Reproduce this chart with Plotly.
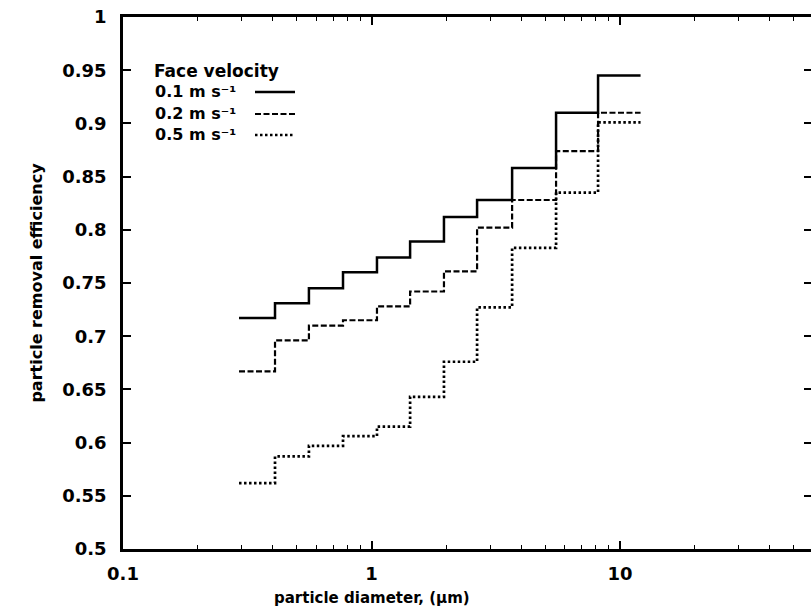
import plotly.graph_objects as go

# particle size bin edges (µm)
bin_edges = [0.293, 0.409, 0.560, 0.768, 1.052, 1.43, 1.957, 2.66, 3.68, 5.53, 8.16, 12.1]
# removal efficiency per bin, for each face velocity
eff_01 = [0.717, 0.731, 0.745, 0.760, 0.774, 0.789, 0.812, 0.828, 0.858, 0.910, 0.945]
eff_02 = [0.667, 0.696, 0.710, 0.715, 0.728, 0.742, 0.761, 0.802, 0.828, 0.874, 0.910]
eff_05 = [0.562, 0.587, 0.597, 0.606, 0.615, 0.643, 0.676, 0.727, 0.783, 0.835, 0.901]
series_names = ["0.1 m s⁻¹", "0.2 m s⁻¹", "0.5 m s⁻¹"]
x_tickvals = [0.1, 1, 10]
x_ticktext = ["0.1", "1", "10"]
x_minor = [0.2, 0.3, 0.4, 0.5, 0.6, 0.7, 0.8, 0.9, 2, 3, 4, 5, 6, 7, 8, 9, 20, 30, 40, 50]

W, H = 811, 611
L, R, T, B = 123, 0, 17, 62
pw, ph = W - L - R, H - T - B

styles = [
    dict(color="black", width=2.5, dash="solid"),
    dict(color="black", width=2.2, dash="6px,2.5px"),
    dict(color="black", width=2.7, dash="2.5px,2.5px"),
]

fig = go.Figure()
for vals, st, name in zip([eff_01, eff_02, eff_05], styles, series_names):
    fig.add_trace(go.Scatter(
        x=bin_edges, y=vals + [vals[-1]], mode="lines", line_shape="hv",
        line=st, name=name, showlegend=False, hoverinfo="skip"))

# invisible trace to carry the right-side tick axis
fig.add_trace(go.Scatter(x=[bin_edges[0]], y=[0.5], yaxis="y2", mode="markers",
                         marker=dict(opacity=0), showlegend=False, hoverinfo="skip"))

FONT = "DejaVu Sans"
tickfont = dict(family=FONT, size=18, color="black", weight="bold")

fig.update_layout(
    width=W, height=H,
    margin=dict(l=L, r=R, t=T, b=B),
    paper_bgcolor="white", plot_bgcolor="white",
    xaxis=dict(
        type="log", range=[-1, -1 + (W - L) / 248.5],
        tickvals=x_tickvals, ticktext=x_ticktext,
        ticks="inside", ticklen=8, tickwidth=1.5, tickcolor="black",
        minor=dict(tickvals=x_minor, ticks="inside", ticklen=4, tickwidth=1.2, tickcolor="black", showgrid=False),
        showline=True, linewidth=2.5, linecolor="black", mirror="ticks",
        showgrid=False, zeroline=False, tickfont=tickfont, ticklabelstandoff=7,
    ),
    yaxis=dict(
        range=[0.5, 1.0], dtick=0.05, tick0=0.5,
        ticks="inside", ticklen=8, tickwidth=1.5, tickcolor="black",
        showline=True, linewidth=2.5, linecolor="black", mirror=False,
        showgrid=False, zeroline=False, tickfont=tickfont, ticklabelstandoff=10,
        title=dict(text="particle removal efficiency", font=dict(family=FONT, size=16, color="black", weight="bold"), standoff=16),
    ),
    yaxis2=dict(
        overlaying="y", side="right", range=[0.5, 1.0], dtick=0.05, tick0=0.5,
        ticks="inside", ticklen=7, tickwidth=1.5, tickcolor="black",
        showline=False, showticklabels=False, showgrid=False, zeroline=False,
    ),
)

def px_x(px):
    return (px - L) / pw

def px_y(py):
    return (H - B - py) / ph

# x-axis title (centred under the "1" decade as in the original)
fig.add_annotation(text="particle diameter, (µm)", x=px_x(372), y=px_y(598), xref="paper", yref="paper",
                   xanchor="center", yanchor="middle", showarrow=False,
                   font=dict(family=FONT, size=15, color="black", weight="bold"))

fig.add_annotation(text="Face velocity", x=px_x(152), y=px_y(71), xref="paper", yref="paper",
                   xanchor="left", yanchor="middle", showarrow=False,
                   font=dict(family=FONT, size=17, color="black", weight="bold"))
annfont = dict(family=FONT, size=16, color="black", weight="bold")
for i, (name, st) in enumerate(zip(series_names, styles)):
    ly = [92, 114, 135][i]
    fig.add_annotation(text=name, x=px_x(153), y=px_y(ly - 1), xref="paper", yref="paper",
                       xanchor="left", yanchor="middle", showarrow=False, font=annfont)
    fig.add_shape(type="line", xref="paper", yref="paper",
                  x0=px_x(255), x1=px_x(295), y0=px_y(ly), y1=px_y(ly),
                  line=dict(color="black", width=st["width"], dash=st["dash"]))

fig.write_html("out.html", config={"displayModeBar": False},
               post_script="document.body.style.margin='0';")
